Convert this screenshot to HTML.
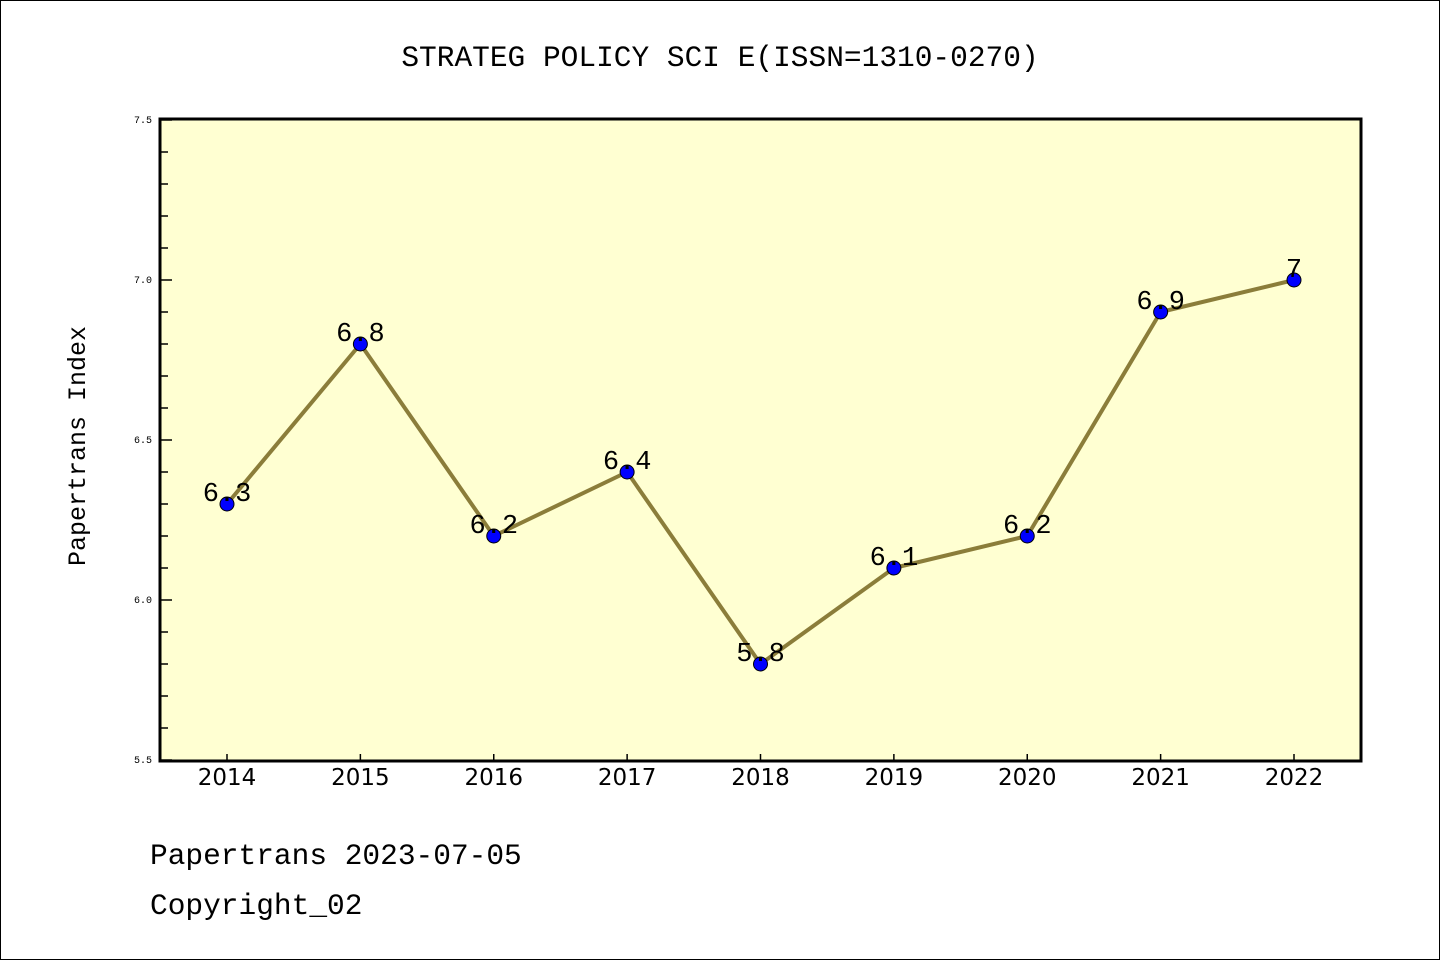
<!DOCTYPE html>
<html><head><meta charset="utf-8">
<style>
body{margin:0;background:#fff;}
svg{display:block;font-family:"Liberation Mono","DejaVu Sans Mono",monospace;}
</style></head>
<body>
<svg id="chart" width="1440" height="960" xmlns="http://www.w3.org/2000/svg">
<rect x="0.5" y="0.5" width="1439" height="959" fill="#fff" stroke="#000" stroke-width="1"/>
<text x="720" y="66" text-anchor="middle" font-size="29.5">STRATEG POLICY SCI E(ISSN=1310-0270)</text>
<rect x="160" y="119" width="1201" height="642" fill="#ffffd2"/>
<g id="axes"></g>
<g id="series"></g>
<rect x="160" y="119" width="1201" height="642" fill="none" stroke="#000" stroke-width="3"/>
<text transform="translate(85,446) rotate(-90)" text-anchor="middle" font-size="25">Papertrans Index</text>
<text x="150" y="864" font-size="29.5">Papertrans 2023-07-05</text>
<text x="150" y="914" font-size="29.5">Copyright_02</text>
</svg>
<script>
const years = [2014,2015,2016,2017,2018,2019,2020,2021,2022];
const values = [6.3,6.8,6.2,6.4,5.8,6.1,6.2,6.9,7.0];
const labels = ["6.3","6.8","6.2","6.4","5.8","6.1","6.2","6.9","7"];
const yTicks = [5.5,6.0,6.5,7.0,7.5];
const yTickLabels = ["5.5","6.0","6.5","7.0","7.5"];
(function(){
const NS="http://www.w3.org/2000/svg";
const yMin=5.5,yMax=7.5,plotTop=120,plotBot=760;
function yS(v){return plotBot-(v-yMin)/(yMax-yMin)*(plotBot-plotTop);}
const x0=227,x1=1294;
function xS(i){return x0+i*(x1-x0)/(years.length-1);}
function mk(tag,attrs,parent){const e=document.createElementNS(NS,tag);for(const k in attrs)e.setAttribute(k,attrs[k]);parent.appendChild(e);return e;}
const ax=document.getElementById('axes');
const nMinor=Math.round((yMax-yMin)*10);
for(let k=0;k<=nMinor;k++){
  const v=yMin+k*0.1;const y=yS(v);
  const major=k%5===0;
  const t=mk('line',{x1:160,x2:160+(major?12:8),y1:y,y2:y,stroke:'#000','stroke-width':1.5},ax);
  
  
}
yTicks.forEach((v,i)=>{
  const t=mk('text',{x:152,y:yS(v)+3,'text-anchor':'end','font-size':10},ax);
  t.textContent=yTickLabels[i];
  
  
});
years.forEach((yr,i)=>{
  const x=xS(i);
  const t=mk('line',{x1:x,x2:x,y1:760,y2:754,stroke:'#000','stroke-width':1.5},ax);
  
  
  const l=mk('text',{x:x,y:785,'text-anchor':'middle','font-size':23,'font-family':'"DejaVu Sans","Liberation Sans",sans-serif'},ax);
  l.textContent=String(yr);
  
  
});
const sg=document.getElementById('series');
const pts=values.map((v,i)=>xS(i)+','+yS(v)).join(' ');
const pl=mk('polyline',{points:pts,fill:'none',stroke:'#8b7d3a','stroke-width':4,'stroke-linejoin':'round'},sg);


values.forEach((v,i)=>{
  const c=mk('circle',{cx:xS(i),cy:yS(v),r:7,fill:'#0000ff',stroke:'#000','stroke-width':1},sg);
  
  
  const t=mk('text',{x:xS(i),y:yS(v)-3,'text-anchor':'middle','font-size':27},sg);
  t.textContent=labels[i];
  
  
});
})();
</script>
</body></html>
